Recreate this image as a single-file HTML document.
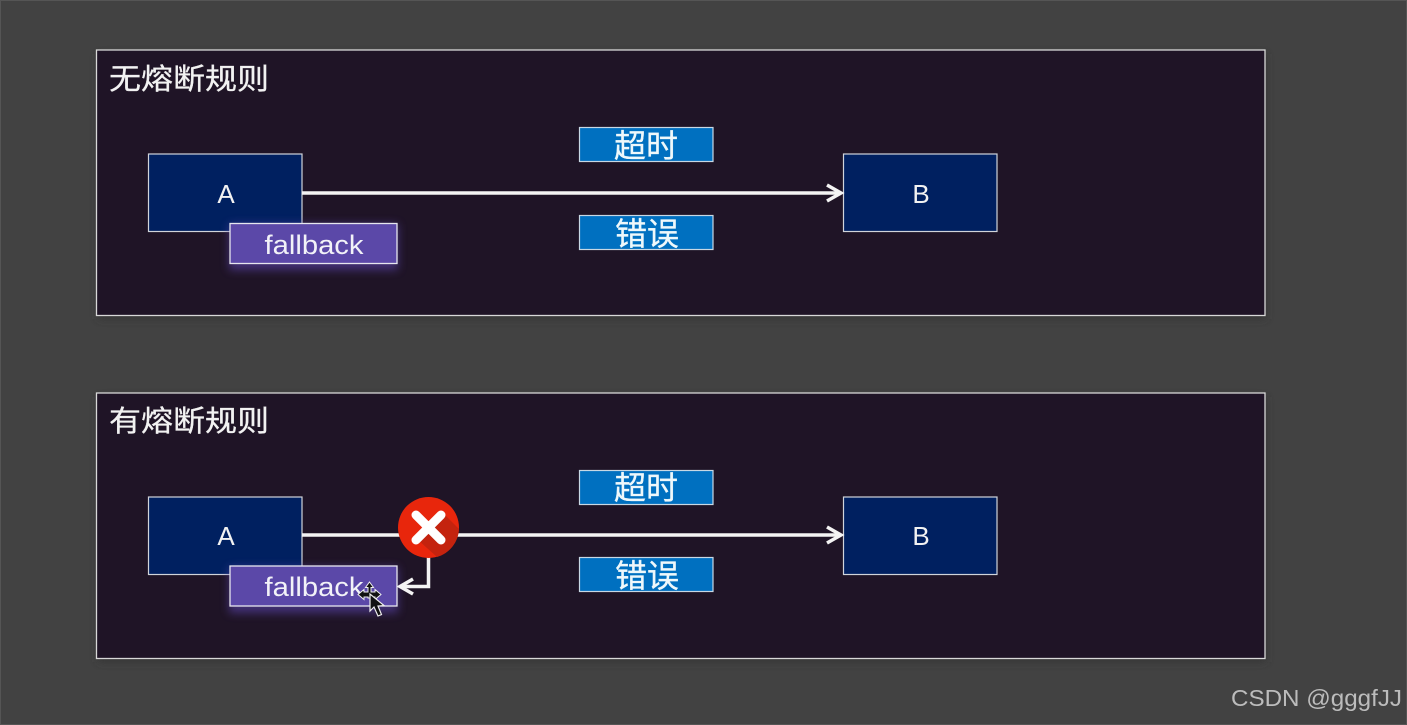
<!DOCTYPE html>
<html><head><meta charset="utf-8"><style>
html,body{margin:0;padding:0;background:#424242}
body{width:1407px;height:725px;position:relative;overflow:hidden;font-family:"Liberation Sans","Noto Sans CJK SC",sans-serif}
svg{position:absolute;left:0;top:0;filter:blur(.35px)}
</style></head><body>
<svg width="1407" height="725" viewBox="0 0 1407 725" xmlns="http://www.w3.org/2000/svg" style="font-family:'Liberation Sans','Noto Sans CJK SC',sans-serif">
<defs>
<filter id="g" x="-20%" y="-30%" width="140%" height="180%"><feGaussianBlur stdDeviation="4.500"/></filter>
<filter id="s" x="-3%" y="-5%" width="106%" height="115%"><feGaussianBlur stdDeviation="4"/></filter>
</defs>
<rect x="0.5" y="0.5" width="1406" height="724" fill="#424242" stroke="#555"/>

<g id="p1">
<rect x="98" y="54" width="1168" height="265" fill="#353535" filter="url(#s)"/>
<rect x="96.500" y="50" width="1168.500" height="265.500" fill="#1f1426" stroke="#d8d8d8" stroke-width="1.300"/>
<text x="109" y="89" font-size="29" fill="#f2f2f2" stroke="#f2f2f2" stroke-width=".3" textLength="160" lengthAdjust="spacingAndGlyphs">无熔断规则</text>
<rect x="148.500" y="154" width="153.500" height="77.500" fill="#002060" stroke="#d0d4da" stroke-width="1.200"/>
<text x="226" y="203" font-size="26" fill="#f2f2f2" text-anchor="middle" font-family="Liberation Sans">A</text>
<rect x="843.500" y="154" width="153.500" height="77.500" fill="#002060" stroke="#d0d4da" stroke-width="1.200"/>
<text x="921" y="203" font-size="26" fill="#f2f2f2" text-anchor="middle" font-family="Liberation Sans">B</text>
<rect x="579.500" y="127.500" width="133.500" height="34" fill="#0070c0" stroke="#c8d8e4" stroke-width="1.200"/>
<text x="646" y="157" font-size="32" fill="#eef8fb" stroke="#eef8fb" stroke-width=".3" text-anchor="middle">超时</text>
<rect x="579.500" y="215.500" width="133.500" height="34" fill="#0070c0" stroke="#c8d8e4" stroke-width="1.200"/>
<text x="647" y="245" font-size="32" fill="#eef8fb" stroke="#eef8fb" stroke-width=".3" text-anchor="middle">错误</text>
<line x1="302" y1="193" x2="840" y2="193" stroke="#f4f4f4" stroke-width="3.500"/>
<polyline points="827,185 841,193 827,201" fill="none" stroke="#f4f4f4" stroke-width="3.500"/>
<rect x="229" y="224" width="169" height="46" fill="#5b45ad" opacity=".6" filter="url(#g)"/>
<rect x="230" y="223.500" width="167" height="40" fill="#5b48a8" stroke="#e6e6ee" stroke-width="1.300"/>
<text x="314" y="254" font-size="27" fill="#f2f2f8" text-anchor="middle" textLength="99" lengthAdjust="spacingAndGlyphs" font-family="Liberation Sans">fallback</text>
</g>

<g id="p2">
<rect x="98" y="397" width="1168" height="265" fill="#353535" filter="url(#s)"/>
<rect x="96.500" y="393" width="1168.500" height="265.500" fill="#1f1426" stroke="#d8d8d8" stroke-width="1.300"/>
<text x="109" y="431" font-size="29" fill="#f2f2f2" stroke="#f2f2f2" stroke-width=".3" textLength="160" lengthAdjust="spacingAndGlyphs">有熔断规则</text>
<rect x="148.500" y="497" width="153.500" height="77.500" fill="#002060" stroke="#d0d4da" stroke-width="1.200"/>
<text x="226" y="545" font-size="26" fill="#f2f2f2" text-anchor="middle" font-family="Liberation Sans">A</text>
<rect x="843.500" y="497" width="153.500" height="77.500" fill="#002060" stroke="#d0d4da" stroke-width="1.200"/>
<text x="921" y="545" font-size="26" fill="#f2f2f2" text-anchor="middle" font-family="Liberation Sans">B</text>
<rect x="579.500" y="470.500" width="133.500" height="34" fill="#0070c0" stroke="#c8d8e4" stroke-width="1.200"/>
<text x="646" y="499" font-size="32" fill="#eef8fb" stroke="#eef8fb" stroke-width=".3" text-anchor="middle">超时</text>
<rect x="579.500" y="557.500" width="133.500" height="34" fill="#0070c0" stroke="#c8d8e4" stroke-width="1.200"/>
<text x="647" y="587" font-size="32" fill="#eef8fb" stroke="#eef8fb" stroke-width=".3" text-anchor="middle">错误</text>
<line x1="302" y1="535" x2="840" y2="535" stroke="#f4f4f4" stroke-width="3.500"/>
<polyline points="827,527 841,535 827,543" fill="none" stroke="#f4f4f4" stroke-width="3.500"/>
<rect x="229" y="567" width="169" height="46" fill="#5b45ad" opacity=".6" filter="url(#g)"/>
<rect x="230" y="566" width="167" height="40" fill="#5b48a8" stroke="#e6e6ee" stroke-width="1.300"/>
<text x="314" y="596" font-size="27" fill="#f2f2f8" text-anchor="middle" textLength="99" lengthAdjust="spacingAndGlyphs" font-family="Liberation Sans">fallback</text>
<polyline points="428.500,555 428.500,586.500 401,586.500" fill="none" stroke="#f4f4f4" stroke-width="3.500"/>
<polyline points="413,579 400,586.500 413,594" fill="none" stroke="#f4f4f4" stroke-width="3.500"/>
<circle cx="428.500" cy="527.500" r="30.500" fill="#e8260c"/>
<path d="M443,513 L459,529 A30.500,30.500 0 0 1 437,557 L417,539 Z" fill="#c4230e"/>
<path d="M416,515 L441,540 M441,515 L416,540" stroke="#fff" stroke-width="9" stroke-linecap="round"/>
<!-- cursor -->
<path d="M369.500,582 L373.500,587.500 H371 V592 H375 V589.500 L381,594.500 L375,599.500 V597 H371 V598 H368 V597 H364 V599.500 L358,594.500 L364,589.500 V592 H368 V587.500 H365.500 Z" fill="#111" stroke="#eee" stroke-width="1"/>
<path d="M370,594 V611 L374,607 L378,616 L381.500,614.500 L378,606 L384,605.500 Z" fill="#111" stroke="#eee" stroke-width="1.200"/>
</g>

<text x="1231" y="706" font-size="23.500" fill="#bcbcbc" textLength="171" lengthAdjust="spacingAndGlyphs" font-family="Liberation Sans">CSDN @gggfJJ</text>
</svg>
</body></html>
